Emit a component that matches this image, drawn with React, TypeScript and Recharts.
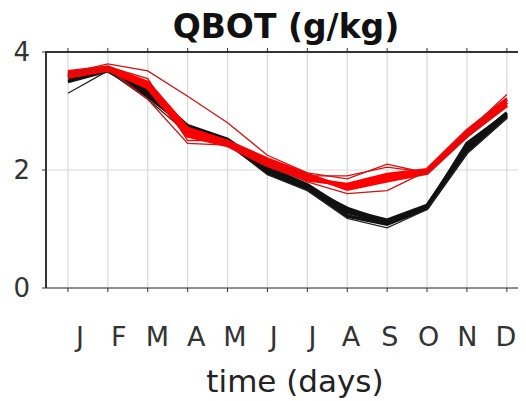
import { LineChart, Line, XAxis, YAxis, CartesianGrid } from "recharts";

const months = ["J", "F", "M", "A", "M", "J", "J", "A", "S", "O", "N", "D"];
const monthIdx = [1, 2, 3, 4, 5, 6, 7, 8, 9, 10, 11, 12];
const yTicks = [0, 2, 4];
const xMin = 0.45;
const xMax = 12.48;

// control runs (black)
const black1 = [3.56, 3.7, 3.25, 2.72, 2.5, 2.0, 1.72, 1.28, 1.12, 1.38, 2.35, 2.93];
const black2 = [3.5, 3.68, 3.3, 2.68, 2.46, 1.95, 1.68, 1.22, 1.08, 1.35, 2.3, 2.9];
const black3 = [3.62, 3.72, 3.35, 2.75, 2.52, 2.05, 1.75, 1.32, 1.15, 1.4, 2.4, 2.97];
const black4 = [3.3, 3.68, 3.2, 2.62, 2.45, 1.92, 1.65, 1.18, 1.02, 1.33, 2.28, 2.88];
const black5 = [3.58, 3.7, 3.28, 2.7, 2.48, 2.02, 1.7, 1.35, 1.12, 1.36, 2.45, 2.95];

// experiment runs (red)
const red1 = [3.62, 3.72, 3.45, 2.62, 2.45, 2.12, 1.88, 1.72, 1.88, 1.98, 2.62, 3.15];
const red2 = [3.66, 3.74, 3.48, 2.7, 2.48, 2.18, 1.92, 1.68, 1.82, 1.95, 2.58, 3.1];
const red3 = [3.58, 3.7, 3.4, 2.58, 2.42, 2.08, 1.84, 1.75, 1.92, 2.0, 2.66, 3.2];
const red4 = [3.64, 3.8, 3.68, 3.25, 2.8, 2.25, 1.95, 1.85, 2.1, 1.95, 2.6, 3.22];
const red5 = [3.6, 3.72, 3.2, 2.45, 2.42, 2.1, 1.8, 1.6, 1.65, 1.98, 2.55, 3.12];
const red6 = [3.62, 3.75, 3.55, 2.5, 2.5, 2.15, 1.9, 1.9, 2.05, 1.96, 2.65, 3.28];

const data = monthIdx.map((m, i) => ({
  m,
  b1: black1[i], b2: black2[i], b3: black3[i], b4: black4[i], b5: black5[i],
  r1: red1[i], r2: red2[i], r3: red3[i], r4: red4[i], r5: red5[i], r6: red6[i],
}));

const font = "'DejaVu Sans', sans-serif";
const axisColor = "#333";
const blank = () => "";

export default function App() {
  return (
    <div style={{ position: "relative", width: 518, height: 393, fontFamily: font }}>
      <div
        style={{
          position: "absolute", top: 2, left: 38, width: 480, textAlign: "center",
          fontSize: 33, fontWeight: "bold", lineHeight: 1, color: "#111",
        }}
      >
        QBOT (g/kg)
      </div>
      <LineChart width={518} height={393} data={data} margin={{ top: 40, right: 0, left: 0, bottom: 0 }}>
        <CartesianGrid stroke="#d9d9d9" strokeWidth={1.2} xAxisId="a" yAxisId="y" />
        <XAxis xAxisId="a" dataKey="m" type="number" domain={[xMin, xMax]} ticks={monthIdx}
          height={6} tickSize={4} tickFormatter={blank} stroke={axisColor} />
        <XAxis xAxisId="b" dataKey="m" type="number" domain={[0.122, 12.516]} ticks={monthIdx}
          height={107} axisLine={false} tickLine={false} tickSize={0} tickMargin={33}
          tickFormatter={(v) => months[v - 1]}
          tick={{ fill: "#333", fontSize: 27, fontFamily: font }}
          label={{ value: "time (days)", position: "insideBottom", offset: 9, dx: 9, fill: "#222", fontSize: 31, fontFamily: font }} />
        <XAxis xAxisId="c" orientation="top" dataKey="m" type="number" domain={[xMin, xMax]}
          ticks={monthIdx} height={4} tickSize={4} tickFormatter={blank} stroke={axisColor} />
        <YAxis yAxisId="y" domain={[0, 4]} ticks={yTicks} width={38} tickSize={4} tickMargin={12}
          stroke={axisColor} tick={{ fill: "#333", fontSize: 26, fontFamily: font }} />
        {["b1", "b2", "b3", "b5"].map((k) => (
          <Line key={k} xAxisId="a" yAxisId="y" dataKey={k} stroke="#111" strokeWidth={3.5} dot={false} isAnimationActive={false} />
        ))}
        <Line xAxisId="a" yAxisId="y" dataKey="b4" stroke="#222" strokeWidth={1.3} dot={false} isAnimationActive={false} />
        {["r1", "r2", "r3"].map((k) => (
          <Line key={k} xAxisId="a" yAxisId="y" dataKey={k} stroke="#ff0000" strokeWidth={4} dot={false} isAnimationActive={false} />
        ))}
        {["r4", "r5", "r6"].map((k) => (
          <Line key={k} xAxisId="a" yAxisId="y" dataKey={k} stroke="#d41010" strokeWidth={1.3} dot={false} isAnimationActive={false} />
        ))}
      </LineChart>
      {/* plot frame: left and top border lines */}
      <div
        style={{
          position: "absolute", left: 37, top: 43, width: 481, height: 237,
          borderLeft: `2px solid ${axisColor}`, borderTop: `2px solid ${axisColor}`,
          boxSizing: "border-box", pointerEvents: "none",
        }}
      />
    </div>
  );
}
